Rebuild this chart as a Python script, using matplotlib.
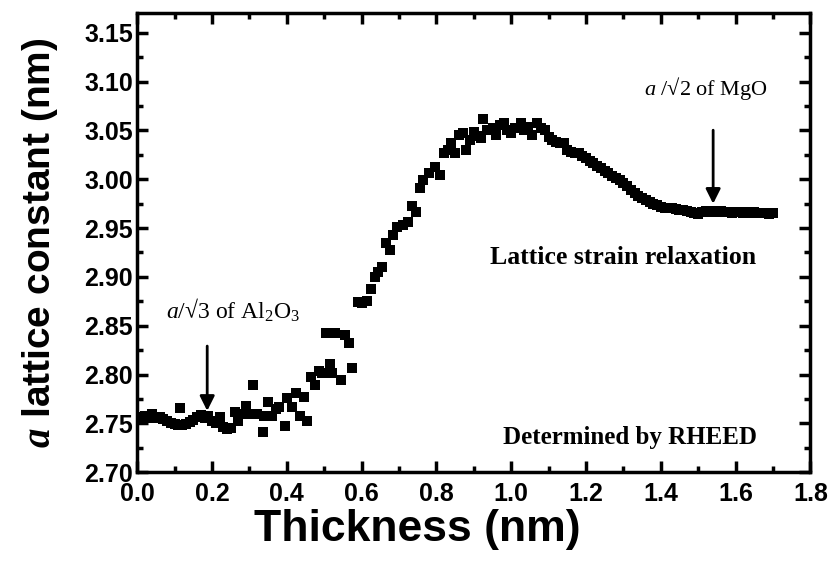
import matplotlib
matplotlib.use('Agg')
import matplotlib.pyplot as plt
from matplotlib.ticker import MultipleLocator

plt.rcParams['font.family'] = ['Liberation Sans', 'DejaVu Sans']
plt.rcParams['mathtext.fontset'] = 'custom'
plt.rcParams['mathtext.rm'] = 'Liberation Serif'
plt.rcParams['mathtext.it'] = 'Liberation Serif:italic'
plt.rcParams['mathtext.bf'] = 'Liberation Serif:bold'
plt.rcParams['mathtext.bfit'] = 'Liberation Serif:italic:bold'

# Thickness (nm) and lattice constant (nm)
thickness = [0.00, 0.01, 0.02, 0.03, 0.04, 0.05, 0.06, 0.07, 0.08, 0.09,
             0.10, 0.11, 0.115, 0.12, 0.13, 0.14, 0.15, 0.16, 0.17, 0.18,
             0.19, 0.20, 0.21, 0.22, 0.23, 0.24, 0.25, 0.26, 0.27, 0.28,
             0.29, 0.30, 0.31, 0.32, 0.335, 0.34, 0.35, 0.36, 0.37, 0.38,
             0.395, 0.40, 0.415, 0.425, 0.435, 0.445, 0.455, 0.465, 0.475, 0.485,
             0.495, 0.505, 0.515, 0.52, 0.53, 0.545, 0.555, 0.565, 0.575, 0.59,
             0.60, 0.615, 0.625, 0.635, 0.645, 0.655, 0.665, 0.675, 0.685, 0.695,
             0.71, 0.725, 0.735, 0.745, 0.755, 0.765, 0.78, 0.795, 0.81, 0.82,
             0.83, 0.84, 0.85, 0.86, 0.87, 0.88, 0.89, 0.90, 0.91, 0.92,
             0.925, 0.935, 0.95, 0.96, 0.97, 0.98, 0.99, 1.00, 1.01, 1.025,
             1.035, 1.045, 1.055, 1.07, 1.08, 1.09, 1.10, 1.11, 1.12, 1.13,
             1.14, 1.15, 1.16, 1.17, 1.18, 1.19, 1.20, 1.21, 1.22, 1.23,
             1.24, 1.25, 1.26, 1.27, 1.28, 1.29, 1.30, 1.31, 1.32, 1.33,
             1.34, 1.35, 1.36, 1.37, 1.38, 1.39, 1.40, 1.41, 1.42, 1.43,
             1.44, 1.45, 1.46, 1.47, 1.48, 1.49, 1.50, 1.51, 1.52, 1.53,
             1.54, 1.55, 1.56, 1.57, 1.58, 1.59, 1.60, 1.61, 1.62, 1.63,
             1.64, 1.65, 1.66, 1.67, 1.68, 1.69, 1.70]
lattice = [2.757, 2.755, 2.758, 2.756, 2.760, 2.755, 2.757, 2.754, 2.752, 2.750,
           2.749, 2.748, 2.766, 2.748, 2.749, 2.751, 2.753, 2.757, 2.759, 2.755,
           2.758, 2.752, 2.750, 2.757, 2.746, 2.744, 2.745, 2.762, 2.752, 2.760,
           2.768, 2.760, 2.789, 2.760, 2.741, 2.758, 2.772, 2.758, 2.765, 2.767,
           2.747, 2.776, 2.767, 2.781, 2.758, 2.777, 2.752, 2.797, 2.789, 2.804,
           2.802, 2.843, 2.811, 2.802, 2.843, 2.794, 2.840, 2.832, 2.807, 2.874,
           2.873, 2.875, 2.888, 2.900, 2.905, 2.910, 2.935, 2.927, 2.943, 2.951,
           2.953, 2.956, 2.973, 2.966, 2.991, 2.999, 3.006, 3.012, 3.004, 3.027,
           3.030, 3.037, 3.027, 3.045, 3.047, 3.030, 3.040, 3.048, 3.044, 3.042,
           3.062, 3.050, 3.052, 3.045, 3.055, 3.058, 3.050, 3.047, 3.052, 3.058,
           3.050, 3.053, 3.045, 3.058, 3.052, 3.050, 3.043, 3.040, 3.038, 3.037,
           3.037, 3.030, 3.028, 3.027, 3.027, 3.024, 3.022, 3.019, 3.017, 3.013,
           3.011, 3.008, 3.006, 3.003, 3.001, 2.999, 2.996, 2.993, 2.989, 2.986,
           2.983, 2.981, 2.979, 2.977, 2.975, 2.974, 2.972, 2.971, 2.970, 2.970,
           2.969, 2.968, 2.968, 2.967, 2.966, 2.965, 2.964, 2.966, 2.967, 2.966,
           2.967, 2.966, 2.967, 2.966, 2.966, 2.965, 2.966, 2.966, 2.965, 2.966,
           2.965, 2.966, 2.965, 2.965, 2.965, 2.964, 2.965]

fig = plt.figure(figsize=(8.32, 5.71), dpi=100)
ax = fig.add_axes([0.165, 0.173, 0.809, 0.804])

ax.plot(thickness, lattice, 's', color='black', markersize=7, markeredgewidth=0)

ax.set_xlim(0, 1.8)
ax.set_ylim(2.70, 3.17)
ax.xaxis.set_major_locator(MultipleLocator(0.2))
ax.xaxis.set_minor_locator(MultipleLocator(0.1))
ax.yaxis.set_major_locator(MultipleLocator(0.05))
ax.yaxis.set_minor_locator(MultipleLocator(0.025))
ax.xaxis.set_major_formatter(plt.FormatStrFormatter('%.1f'))
ax.yaxis.set_major_formatter(plt.FormatStrFormatter('%.2f'))

ax.tick_params(which='both', direction='in', top=True, right=True, width=2.5)
ax.tick_params(which='major', length=8, labelsize=18)
ax.tick_params(axis='x', which='major', pad=7)
ax.tick_params(axis='y', which='major', pad=3)
ax.tick_params(which='minor', length=4.5)
for lbl in ax.get_xticklabels() + ax.get_yticklabels():
    lbl.set_fontweight('bold')
for sp in ax.spines.values():
    sp.set_linewidth(2.5)

ax.set_xlabel('Thickness (nm)', fontsize=32, fontweight='bold')
ax.xaxis.set_label_coords(0.416, -0.08)
ax.set_ylabel(r'$\mathbfit{a}$ lattice constant (nm)', fontsize=28, fontweight='bold')
ax.yaxis.set_label_coords(-0.115, 0.5)

arrow = dict(arrowstyle='-|>', color='black', lw=2, mutation_scale=22)
ax.annotate('', xy=(0.187, 2.760), xytext=(0.187, 2.832), arrowprops=arrow)
ax.annotate('', xy=(1.54, 2.972), xytext=(1.54, 3.053), arrowprops=arrow)

ax.text(0.257, 2.866, r'$\mathit{a}$/√3 of Al$_2$O$_3$', fontsize=17,
        family='Liberation Serif', ha='center', va='center')
ax.text(1.52, 3.093, r'$\mathit{a}$ /√2 of MgO', fontsize=16,
        family='Liberation Serif', ha='center', va='center')
ax.text(1.30, 2.920, 'Lattice strain relaxation', fontsize=18.5, fontweight='bold',
        family='Liberation Serif', ha='center', va='center')
ax.text(1.318, 2.736, 'Determined by RHEED', fontsize=18, fontweight='bold',
        family='Liberation Serif', ha='center', va='center')

fig.savefig('out.png', dpi=100)
